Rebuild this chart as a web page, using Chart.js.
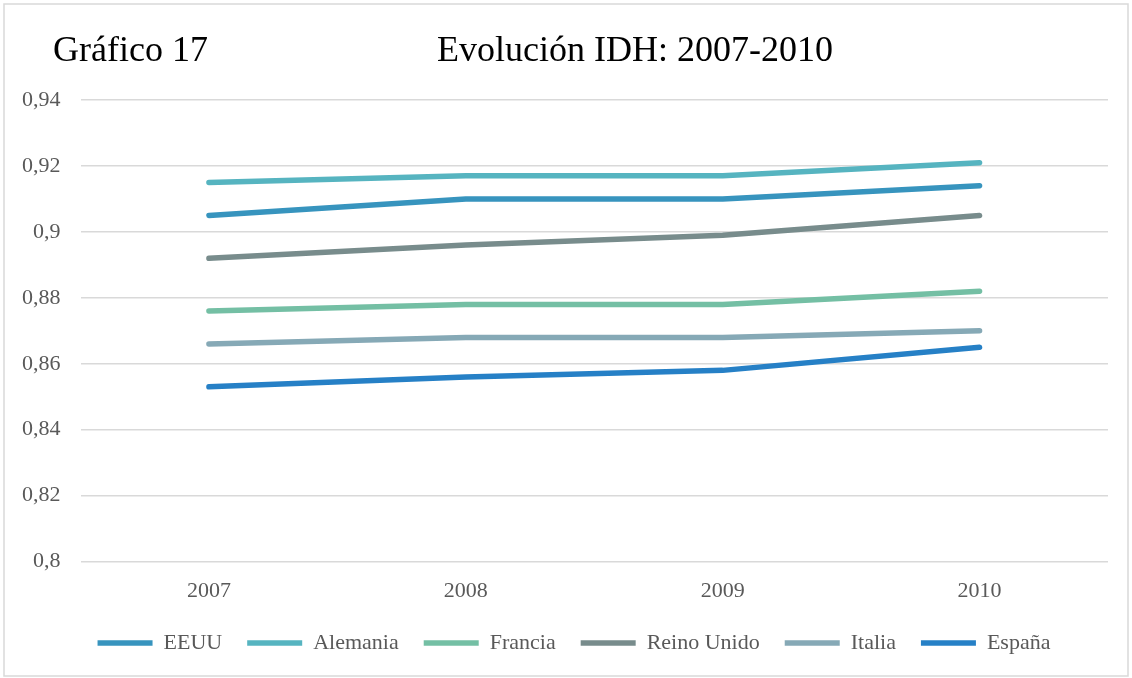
<!DOCTYPE html>
<html>
<head>
<meta charset="utf-8">
<script src="https://cdn.jsdelivr.net/npm/chart.js@4"></script>
<style>
  html, body { margin: 0; padding: 0; background: #fff; }
  #wrap { width: 1132px; height: 678px; }
</style>
</head>
<body>
<div id="wrap"><canvas id="chart" width="1132" height="678"></canvas></div>
<script>
// Data
const years = ['2007', '2008', '2009', '2010'];
const eeuu = [0.905, 0.910, 0.910, 0.914];
const alemania = [0.915, 0.917, 0.917, 0.921];
const francia = [0.876, 0.878, 0.878, 0.882];
const reinoUnido = [0.892, 0.896, 0.899, 0.905];
const italia = [0.866, 0.868, 0.868, 0.870];
const espana = [0.853, 0.856, 0.858, 0.865];
const yTicks = [0.8, 0.82, 0.84, 0.86, 0.88, 0.9, 0.92, 0.94];

const FONT = "'Liberation Serif', 'Times New Roman', serif";

const line = (label, data, color) => ({
  label: label,
  data: data,
  borderColor: color,
  backgroundColor: color,
  borderWidth: 5.5,
  borderCapStyle: 'round',
  borderJoinStyle: 'round',
  pointRadius: 0,
  pointHoverRadius: 0,
  tension: 0,
  fill: false
});

// Frame and the two heading texts
const frameAndHeading = {
  id: 'frameAndHeading',
  afterLayout(chart) {
    // the legend sits centred on the whole frame, not on the plot
    chart.legend.left += 19;
    chart.legend.right += 19;
  },
  beforeDraw(chart) {
    const ctx = chart.ctx;
    ctx.save();
    ctx.fillStyle = '#fff';
    ctx.fillRect(0, 0, chart.width, chart.height);
    ctx.strokeStyle = '#d9d9d9';
    ctx.lineWidth = 1.5;
    ctx.strokeRect(4, 4, chart.width - 8, chart.height - 6);
    ctx.restore();
  },
  afterDraw(chart) {
    const ctx = chart.ctx;
    ctx.save();
    ctx.fillStyle = '#000';
    ctx.font = '36px ' + FONT;
    ctx.textBaseline = 'alphabetic';
    ctx.textAlign = 'left';
    ctx.fillText('Gráfico 17', 53, 61);
    ctx.fillText('Evolución IDH: 2007-2010', 437, 61);
    ctx.restore();
  }
};

new Chart(document.getElementById('chart'), {
  type: 'line',
  data: {
    labels: years,
    datasets: [
      line('EEUU', eeuu, '#3794be'),
      line('Alemania', alemania, '#56b4c0'),
      line('Francia', francia, '#74bfa4'),
      line('Reino Unido', reinoUnido, '#788c8c'),
      line('Italia', italia, '#86a9b6'),
      line('España', espana, '#2680c6')
    ]
  },
  options: {
    responsive: false,
    animation: false,
    layout: {
      padding: { top: 100, left: 2, right: 24, bottom: 14 }
    },
    scales: {
      x: {
        offset: true,
        grid: { display: false },
        border: { display: false },
        ticks: {
          padding: 8,
          color: '#595959',
          font: { family: FONT, size: 22 }
        },
        // tighter gap between the axis labels and the legend
        afterFit: axis => { axis.height -= 5; }
      },
      y: {
        min: 0.8,
        max: 0.94,
        afterBuildTicks: axis => {
          axis.ticks = yTicks.map(v => ({ value: v }));
        },
        grid: {
          color: '#d9d9d9',
          lineWidth: 1.5,
          drawTicks: false
        },
        border: { display: false },
        ticks: {
          padding: 20,
          color: '#595959',
          font: { family: FONT, size: 22 },
          callback: value => String(value).replace('.', ',')
        }
      }
    },
    plugins: {
      legend: {
        position: 'bottom',
        labels: {
          usePointStyle: true,
          pointStyle: 'line',
          pointStyleWidth: 55,
          boxHeight: 5,
          padding: 25,
          color: '#595959',
          font: { family: FONT, size: 22 }
        }
      },
      title: { display: false },
      tooltip: { enabled: false }
    }
  },
  plugins: [frameAndHeading]
});
</script>
</body>
</html>
